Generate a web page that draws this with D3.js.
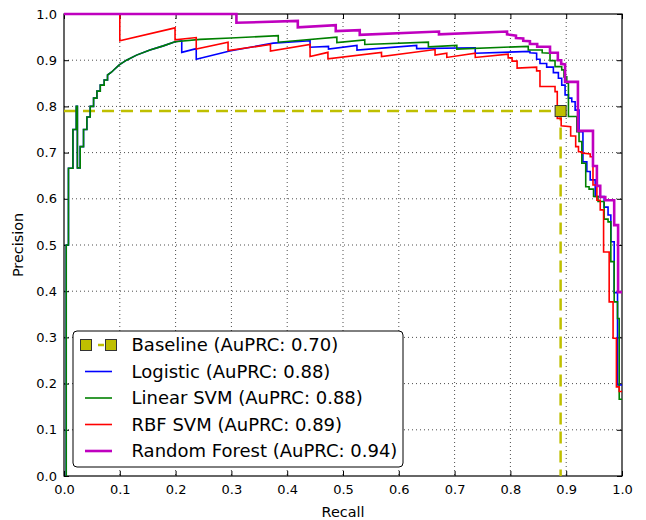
<!DOCTYPE html>
<html>
<head>
<meta charset="utf-8">
<script src="https://cdn.jsdelivr.net/npm/d3@7"></script>
<style>
  body { margin: 0; background: #fff; }
  text { font-family: "DejaVu Sans", sans-serif; }
</style>
</head>
<body>
<div id="chart"></div>
<script>
// precision-recall curves, [recall, precision]

var ticks = [0.0, 0.1, 0.2, 0.3, 0.4, 0.5, 0.6, 0.7, 0.8, 0.9, 1.0];

var modelNames = ["Baseline", "Logistic", "Linear SVM", "RBF SVM", "Random Forest"];
var auprc = [0.70, 0.88, 0.88, 0.89, 0.94];
var colors = ["#bfbf00", "#0000ff", "#008000", "#ff0000", "#bf00bf"];

var baselinePts = [[0, 0.79], [0.89, 0.79], [0.89, 0]];
var baselineMarker = [0.89, 0.79];

// logistic sits under the linear SVM line up to recall ~0.2
var logisticPts = [
  [0.004, 0], [0.004, 0.5], [0.008, 0.5], [0.008, 0.666], [0.016, 0.666], [0.016, 0.75],
  [0.022, 0.75], [0.022, 0.80], [0.024, 0.80], [0.024, 0.667], [0.029, 0.667], [0.029, 0.713],
  [0.035, 0.713], [0.035, 0.75], [0.041, 0.75], [0.041, 0.777], [0.047, 0.777], [0.047, 0.80],
  [0.053, 0.80], [0.053, 0.818], [0.059, 0.818], [0.059, 0.833], [0.065, 0.833], [0.065, 0.846],
  [0.072, 0.846], [0.072, 0.857], [0.078, 0.857], [0.078, 0.868], [0.085, 0.874], [0.091, 0.881],
  [0.099, 0.890], [0.112, 0.900], [0.130, 0.911], [0.154, 0.922], [0.178, 0.931], [0.199, 0.940],
  [0.211, 0.942], [0.211, 0.917], [0.237, 0.925], [0.237, 0.902], [0.297, 0.920], [0.375, 0.937],
  [0.441, 0.942], [0.441, 0.928], [0.474, 0.930], [0.474, 0.924], [0.525, 0.932], [0.525, 0.922],
  [0.632, 0.932], [0.632, 0.925], [0.737, 0.927], [0.737, 0.915], [0.835, 0.919], [0.835, 0.916],
  [0.847, 0.915], [0.847, 0.902], [0.853, 0.902], [0.853, 0.893], [0.865, 0.893], [0.865, 0.885],
  [0.877, 0.885], [0.877, 0.873], [0.886, 0.873], [0.886, 0.861], [0.892, 0.861], [0.892, 0.846],
  [0.898, 0.846], [0.898, 0.825], [0.904, 0.825], [0.904, 0.818], [0.910, 0.818], [0.910, 0.810],
  [0.916, 0.810], [0.916, 0.792], [0.923, 0.792], [0.923, 0.745], [0.930, 0.745], [0.930, 0.680],
  [0.937, 0.680], [0.937, 0.659], [0.943, 0.659], [0.943, 0.641], [0.952, 0.641], [0.952, 0.605],
  [0.968, 0.605], [0.968, 0.582], [0.975, 0.582], [0.975, 0.565], [0.980, 0.565], [0.980, 0.507],
  [0.986, 0.507], [0.986, 0.397], [0.992, 0.397], [0.992, 0.197], [1.0, 0.197]
];

var linearSvmPts = [
  [0.004, 0], [0.004, 0.5], [0.008, 0.5], [0.008, 0.666], [0.016, 0.666], [0.016, 0.75],
  [0.022, 0.75], [0.022, 0.80], [0.024, 0.80], [0.024, 0.667], [0.029, 0.667], [0.029, 0.713],
  [0.035, 0.713], [0.035, 0.75], [0.041, 0.75], [0.041, 0.777], [0.047, 0.777], [0.047, 0.80],
  [0.053, 0.80], [0.053, 0.818], [0.059, 0.818], [0.059, 0.833], [0.065, 0.833], [0.065, 0.846],
  [0.072, 0.846], [0.072, 0.857], [0.078, 0.857], [0.078, 0.868], [0.085, 0.874], [0.091, 0.881],
  [0.099, 0.890], [0.112, 0.900], [0.130, 0.911], [0.154, 0.922], [0.178, 0.931], [0.199, 0.940],
  [0.244, 0.945], [0.299, 0.948], [0.384, 0.953], [0.384, 0.939], [0.489, 0.950], [0.489, 0.938],
  [0.539, 0.944], [0.539, 0.934], [0.653, 0.939], [0.653, 0.929], [0.704, 0.932], [0.704, 0.924],
  [0.832, 0.930], [0.832, 0.922], [0.857, 0.922], [0.857, 0.916], [0.871, 0.915], [0.871, 0.899],
  [0.880, 0.899], [0.880, 0.886], [0.892, 0.886], [0.892, 0.879], [0.896, 0.879], [0.896, 0.864],
  [0.901, 0.864], [0.901, 0.850], [0.904, 0.850], [0.904, 0.778], [0.919, 0.778], [0.919, 0.745],
  [0.923, 0.745], [0.923, 0.724], [0.928, 0.724], [0.928, 0.677], [0.935, 0.677], [0.935, 0.626],
  [0.941, 0.626], [0.941, 0.621], [0.949, 0.621], [0.949, 0.605], [0.957, 0.605], [0.957, 0.594],
  [0.968, 0.594], [0.968, 0.556], [0.975, 0.556], [0.975, 0.550], [0.980, 0.550], [0.980, 0.464],
  [0.986, 0.464], [0.986, 0.377], [0.992, 0.377], [0.992, 0.341], [0.995, 0.341], [0.995, 0.166],
  [1.0, 0.166]
];

var rbfSvmPts = [
  [0, 1], [0.100, 1], [0.100, 0.942], [0.199, 0.970], [0.199, 0.944], [0.237, 0.949],
  [0.237, 0.924], [0.294, 0.939], [0.294, 0.921], [0.370, 0.934], [0.370, 0.920], [0.441, 0.934],
  [0.441, 0.908], [0.473, 0.917], [0.473, 0.903], [0.569, 0.917], [0.569, 0.908], [0.665, 0.923],
  [0.665, 0.911], [0.686, 0.915], [0.686, 0.906], [0.737, 0.915], [0.737, 0.906], [0.796, 0.913],
  [0.796, 0.905], [0.803, 0.905], [0.803, 0.898], [0.812, 0.898], [0.812, 0.883], [0.847, 0.885],
  [0.847, 0.877], [0.853, 0.877], [0.853, 0.843], [0.880, 0.843], [0.880, 0.832], [0.884, 0.832],
  [0.884, 0.774], [0.891, 0.774], [0.891, 0.758], [0.908, 0.756], [0.908, 0.736], [0.917, 0.736],
  [0.917, 0.713], [0.922, 0.713], [0.922, 0.702], [0.928, 0.702], [0.928, 0.699], [0.943, 0.697],
  [0.943, 0.691], [0.948, 0.691], [0.948, 0.630], [0.955, 0.630], [0.955, 0.597], [0.961, 0.597],
  [0.961, 0.576], [0.967, 0.576], [0.967, 0.485], [0.977, 0.485], [0.977, 0.377], [0.984, 0.377],
  [0.984, 0.298], [0.990, 0.298], [0.990, 0.193], [0.995, 0.193], [0.995, 0.183], [1.0, 0.183]
];

var forestPts = [
  [0, 1.0], [0.309, 1.0], [0.309, 0.981], [0.419, 0.985], [0.419, 0.971], [0.487, 0.976],
  [0.487, 0.963], [0.530, 0.965], [0.530, 0.955], [0.672, 0.962], [0.672, 0.956], [0.794, 0.962],
  [0.794, 0.956], [0.810, 0.953], [0.810, 0.948], [0.823, 0.947], [0.823, 0.942], [0.835, 0.941],
  [0.835, 0.935], [0.848, 0.935], [0.848, 0.929], [0.871, 0.929], [0.871, 0.916], [0.885, 0.916],
  [0.885, 0.900], [0.891, 0.900], [0.891, 0.892], [0.898, 0.891], [0.898, 0.853], [0.921, 0.853],
  [0.921, 0.747], [0.948, 0.747], [0.948, 0.671], [0.955, 0.671], [0.955, 0.628], [0.961, 0.628],
  [0.961, 0.604], [0.970, 0.604], [0.970, 0.597], [0.986, 0.597], [0.986, 0.543], [0.993, 0.543],
  [0.993, 0.398], [1.0, 0.398]
];

var curves = [logisticPts, linearSvmPts, rbfSvmPts, forestPts];
var curveWidths = [1.6, 1.6, 1.6, 2.6];

var width = 646, height = 520,
    plotLeft = 64, plotRight = 622, plotTop = 14, plotBottom = 476;

var svg = d3.select("#chart").append("svg")
    .attr("width", width)
    .attr("height", height);

var x = d3.scaleLinear().domain([0, 1]).range([plotLeft, plotRight]);
var y = d3.scaleLinear().domain([0, 1]).range([plotBottom, plotTop]);

// dotted grid
var inner = ticks.slice(1, -1);
svg.append("g").selectAll("line")
    .data(inner).enter().append("line")
    .attr("x1", function(d) { return x(d); }).attr("x2", function(d) { return x(d); })
    .attr("y1", plotTop).attr("y2", plotBottom)
    .attr("stroke", "#000").attr("stroke-width", 0.7).attr("stroke-dasharray", "1,3");
svg.append("g").selectAll("line")
    .data(inner).enter().append("line")
    .attr("y1", function(d) { return y(d); }).attr("y2", function(d) { return y(d); })
    .attr("x1", plotLeft).attr("x2", plotRight)
    .attr("stroke", "#000").attr("stroke-width", 0.7).attr("stroke-dasharray", "1,3");

// axes, ticks pointing inwards on all four sides
var fmt = d3.format(".1f");
function styleAxis(g) {
  g.select(".domain").remove();
  g.selectAll(".tick line").attr("stroke", "#000");
  g.selectAll("text").attr("font-size", "13px").attr("fill", "#000")
    .style("font-family", "'DejaVu Sans', sans-serif");
}
svg.append("g").attr("transform", "translate(0," + plotBottom + ")")
    .call(d3.axisBottom(x).tickValues(ticks).tickFormat(fmt).tickSizeInner(-5).tickSizeOuter(0).tickPadding(9))
    .call(styleAxis);
svg.append("g").attr("transform", "translate(0," + plotTop + ")")
    .call(d3.axisTop(x).tickValues(ticks).tickFormat("").tickSizeInner(-5).tickSizeOuter(0))
    .call(styleAxis);
svg.append("g").attr("transform", "translate(" + plotLeft + ",0)")
    .call(d3.axisLeft(y).tickValues(ticks).tickFormat(fmt).tickSizeInner(-5).tickSizeOuter(0).tickPadding(7))
    .call(styleAxis);
svg.append("g").attr("transform", "translate(" + plotRight + ",0)")
    .call(d3.axisRight(y).tickValues(ticks).tickFormat("").tickSizeInner(-5).tickSizeOuter(0))
    .call(styleAxis);

svg.append("rect")
    .attr("x", plotLeft).attr("y", plotTop)
    .attr("width", plotRight - plotLeft).attr("height", plotBottom - plotTop)
    .attr("fill", "none").attr("stroke", "#000").attr("stroke-width", 1.2);

var line = d3.line()
    .x(function(d) { return x(d[0]); })
    .y(function(d) { return y(d[1]); });

// baseline
svg.append("path")
    .datum(baselinePts)
    .attr("d", line)
    .attr("fill", "none")
    .attr("stroke", colors[0])
    .attr("stroke-width", 2.5)
    .attr("stroke-dasharray", "12,7");

curves.forEach(function(pts, i) {
  svg.append("path")
    .datum(pts)
    .attr("d", line)
    .attr("fill", "none")
    .attr("stroke", colors[i + 1])
    .attr("stroke-width", curveWidths[i])
    .attr("stroke-linejoin", "miter");
});

svg.append("rect")
    .attr("x", x(baselineMarker[0]) - 5.5).attr("y", y(baselineMarker[1]) - 5.5)
    .attr("width", 11).attr("height", 11)
    .attr("fill", colors[0]).attr("stroke", "#333").attr("stroke-width", 1);

// axis labels
svg.append("text")
    .attr("x", (plotLeft + plotRight) / 2).attr("y", 517)
    .attr("text-anchor", "middle").attr("font-size", "14.4px")
    .text("Recall");
svg.append("text")
    .attr("transform", "translate(23," + ((plotTop + plotBottom) / 2) + ") rotate(-90)")
    .attr("text-anchor", "middle").attr("font-size", "14.4px")
    .text("Precision");

// legend
var lg = svg.append("g");
lg.append("rect")
    .attr("x", 73).attr("y", 331).attr("width", 330).attr("height", 136)
    .attr("rx", 4).attr("fill", "#fff").attr("stroke", "#000").attr("stroke-width", 1);

var rowY = d3.scaleLinear().domain([0, 4]).range([345, 451]);

modelNames.forEach(function(name, i) {
  var cy = rowY(i);
  if (i === 0) {
    lg.append("line")
      .attr("x1", 86).attr("x2", 111).attr("y1", cy).attr("y2", cy)
      .attr("stroke", colors[0]).attr("stroke-width", 2.5).attr("stroke-dasharray", "6,6");
    [86, 111].forEach(function(mx) {
      lg.append("rect")
        .attr("x", mx - 5.5).attr("y", cy - 5.5).attr("width", 11).attr("height", 11)
        .attr("fill", colors[0]).attr("stroke", "#333").attr("stroke-width", 1);
    });
  } else {
    lg.append("line")
      .attr("x1", 85).attr("x2", 112).attr("y1", cy).attr("y2", cy)
      .attr("stroke", colors[i]).attr("stroke-width", curveWidths[i - 1]);
  }
  lg.append("text")
    .attr("x", 131.5).attr("y", cy).attr("dy", "0.36em")
    .attr("font-size", "18px")
    .text(name + " (AuPRC: " + d3.format(".2f")(auprc[i]) + ")");
});
</script>
</body>
</html>
